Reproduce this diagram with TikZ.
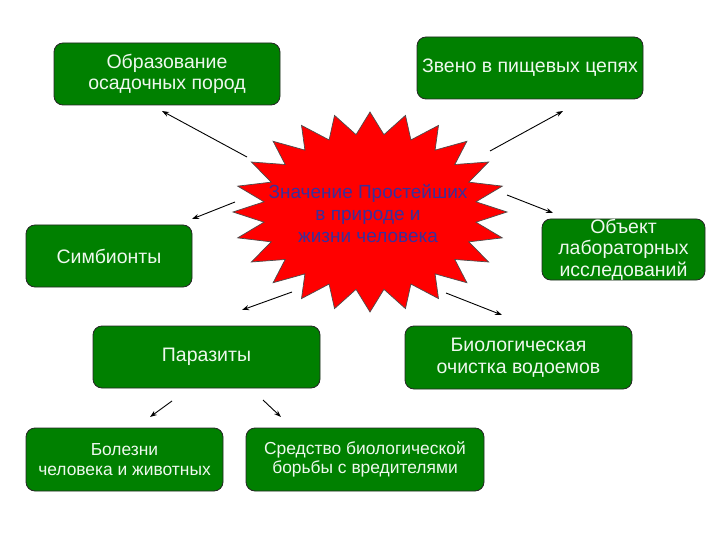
\documentclass[tikz,border=0pt]{standalone}
\usepackage{fontspec}
\setmainfont{Liberation Sans}
\usepackage{tikz}
\usetikzlibrary{arrows.meta,calc}
\definecolor{leafgreen}{HTML}{008000}
\definecolor{paletext}{HTML}{EEF8EE}
\definecolor{burstred}{HTML}{FF0000}
\definecolor{coreblue}{HTML}{3A2F9C}
\tikzset{
  role box/.style  = {draw=black!85, fill=leafgreen, rounded corners=9pt,
                      line width=0.8pt, text=paletext, align=center,
                      inner sep=0pt, font=\fontsize{19.5}{21.5}\selectfont},
  sub box/.style   = {role box, font=\fontsize{17.4}{19.5}\selectfont},
  burst/.style     = {draw=black!70, fill=burstred, line width=0.7pt},
  core text/.style = {text=coreblue, align=center, inner sep=0pt,
                      font=\fontsize{19}{22}\selectfont},
  link/.style      = {-{Stealth[length=7pt,width=5pt]}, black, line width=0.9pt},
}

\begin{document}
\begin{tikzpicture}[x=1pt, y=-1pt]
    \useasboundingbox (0,0) rectangle (720,540);
    % the burst in the middle
    \coordinate (mid) at (370,212);
    \draw[burst] ([shift={(mid)}]90:137 and 100)
      \foreach \i in {0,...,23} {
        -- ([shift={(mid)}]{97.5+15*\i}:106.9 and 78)
        -- ([shift={(mid)}]{105+15*\i}:137 and 100)
      } -- cycle;
    \node[core text] (core) at (368,214) {Значение Простейших\\в природе и\\жизни человека};
    % roles
    \node[role box, minimum width=226pt, minimum height=62pt] (sediment) at (167,74)
      {Образование\\осадочных пород};
    \node[role box, minimum width=226pt, minimum height=62pt] (chain) at (530,68)
      {Звено в пищевых цепях};
    \node[role box, minimum width=166pt, minimum height=62pt] (symb) at (109,256)
      {Симбионты};
    \node[role box, minimum width=163pt, minimum height=61pt] (lab) at (623.5,249.5)
      {Объект\\лабораторных\\исследований};
    \node[role box, minimum width=227pt, minimum height=62pt] (paras) at (206.5,357)
      {Паразиты};
    \node[role box, minimum width=227pt, minimum height=63pt] (clean) at (518.5,357.5)
      {Биологическая\\очистка водоемов};
    \node[sub box, minimum width=197pt, minimum height=63pt] (ill) at (124.5,459.5)
      {Болезни\\человека и животных};
    \node[sub box, minimum width=238pt, minimum height=63pt] (pest) at (365,459.5)
      {Средство биологической\\борьбы с вредителями};
    % arrow ends
    \coordinate (sediment tail) at (247,157);  \coordinate (sediment head) at (162,111);
    \coordinate (symb tail) at (235,202);      \coordinate (symb head) at (192,219);
    \coordinate (chain tail) at (490,151);     \coordinate (chain head) at (563,111);
    \coordinate (lab tail) at (507,195);       \coordinate (lab head) at (553,213);
    \coordinate (paras tail) at (292,292);     \coordinate (paras head) at (242,310);
    \coordinate (clean tail) at (446,293);     \coordinate (clean head) at (502,315);
    \coordinate (ill tail) at (172,401);       \coordinate (ill head) at (150,417);
    \coordinate (pest tail) at (263,400);      \coordinate (pest head) at (281,417);
    \foreach \n in {sediment,symb,chain,lab,paras,clean,ill,pest}
      \draw[link] (\n\space tail) -- (\n\space head);
  \end{tikzpicture}
\end{document}
